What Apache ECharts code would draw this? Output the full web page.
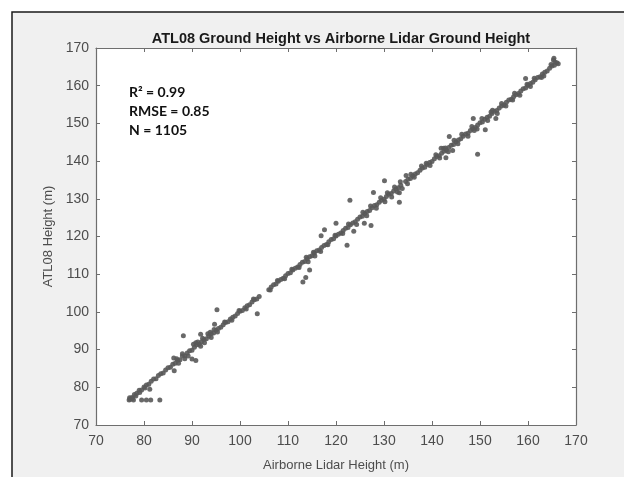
<!DOCTYPE html>
<html lang="en">
<head>
    <meta charset="UTF-8">
    <title>ATL08 Ground Height vs Airborne Lidar Ground Height</title>
    <script src="https://cdn.jsdelivr.net/npm/echarts@6/dist/echarts.min.js"></script>
    <style>
        html, body { margin: 0; padding: 0; background: #fff; }
        #chart { width: 624px; height: 477px; }
    </style>
</head>
<body>
<div id="chart"></div>
<script>
    // main band of points along the 1:1 line (airborne lidar x, ATL08 y)
    var lidarLine = [77.0, 77.5, 78.0, 78.5, 79.0, 79.5, 80.0, 80.5, 81.0, 81.5, 82.0, 82.5, 83.0, 83.5, 84.0, 84.5,
        85.0, 85.5, 86.0, 86.5, 87.0, 87.5, 88.0, 88.5, 89.0, 89.5, 90.0, 90.5, 91.0, 91.5, 92.0, 92.5, 93.0, 93.5,
        94.0, 94.5, 95.0, 95.5, 96.0, 96.5, 97.0, 97.5, 98.0, 98.5, 99.0, 99.5, 100.0, 100.5, 101.0, 101.5, 102.0,
        102.5, 103.0, 103.5, 104.0, 106.0, 106.5, 107.0, 107.5, 108.0, 108.5, 109.0, 109.5, 110.0, 110.5, 111.0,
        111.5, 112.0, 112.5, 113.0, 113.5, 114.0, 114.5, 115.0, 115.5, 116.0, 116.5, 117.0, 117.5, 118.0, 118.5,
        119.0, 119.5, 120.0, 120.5, 121.0, 121.5, 122.0, 122.5, 123.0, 123.5, 124.0, 124.5, 125.0, 125.5, 126.0,
        126.5, 127.0, 127.5, 128.0, 128.5, 129.0, 129.5, 130.0, 130.5, 131.0, 131.5, 132.0, 132.5, 133.0, 133.5,
        134.5, 135.0, 135.5, 136.0, 136.5, 137.0, 137.5, 138.0, 138.5, 139.0, 139.5, 140.0, 140.5, 141.0, 141.5,
        142.0, 142.5, 143.0, 143.5, 144.0, 144.5, 145.0, 145.5, 146.0, 146.5, 147.0, 147.5, 148.0, 148.5, 149.0,
        149.5, 150.0, 150.5, 151.0, 151.5, 152.0, 152.5, 153.0, 153.5, 154.0, 154.5, 155.0, 155.5, 156.0, 156.5,
        157.0, 157.5, 158.0, 158.5, 159.0, 159.5, 160.0, 160.5, 161.0, 161.5, 162.0, 162.5, 163.0, 163.5, 164.0,
        164.5, 165.0, 165.5, 166.0, 166.3];
    var atl08Line = [77.2, 77.3, 78.1, 78.4, 79.2, 79.3, 80.1, 80.6, 80.8, 81.6, 82.2, 82.3, 83.1, 83.6, 83.8, 84.6,
        85.2, 85.3, 86.1, 86.4, 87.2, 87.3, 88.3, 88.4, 89.1, 89.7, 89.8, 90.6, 91.3, 91.4, 92.1, 92.7, 92.9, 93.6,
        94.2, 94.4, 95.1, 95.6, 95.9, 96.6, 97.2, 97.4, 98.1, 98.6, 98.9, 99.6, 100.2, 100.4, 101.1, 101.6, 101.9,
        102.6, 103.2, 103.4, 104.1, 105.9, 106.6, 107.2, 107.4, 108.1, 108.6, 108.9, 109.6, 110.2, 110.4, 111.1,
        111.6, 111.9, 112.6, 113.2, 113.4, 114.1, 114.6, 114.9, 115.6, 116.2, 116.4, 117.1, 117.6, 117.9, 118.6,
        119.2, 119.4, 120.1, 120.6, 120.9, 121.6, 122.2, 122.4, 123.1, 123.6, 123.9, 124.6, 125.2, 125.4, 126.1,
        126.6, 126.9, 127.6, 128.2, 128.4, 129.1, 129.6, 129.9, 130.6, 131.2, 131.4, 132.1, 132.6, 132.9, 133.6,
        134.6, 135.2, 135.4, 136.1, 136.6, 136.9, 137.6, 138.2, 138.4, 139.1, 139.6, 139.9, 140.6, 141.2, 141.4,
        142.1, 142.6, 142.9, 143.6, 144.2, 144.4, 145.1, 145.6, 145.9, 146.6, 147.2, 147.4, 148.1, 148.6, 148.9,
        149.6, 150.2, 150.4, 151.1, 151.6, 151.9, 152.6, 153.2, 153.4, 154.1, 154.6, 154.9, 155.6, 156.2, 156.4,
        157.1, 157.6, 157.9, 158.6, 159.2, 159.4, 160.1, 160.6, 160.9, 161.6, 162.2, 162.4, 163.1, 163.6, 163.9,
        164.6, 165.2, 165.4, 166.1, 165.8];

    // points that make the band look rough
    var lidarBand = [77.1, 77.6, 78.3, 79.1, 80.2, 81.2, 86.8, 87.2, 88.0, 88.5, 89.2, 90.3, 90.8, 91.2, 91.8, 92.2,
        92.6, 93.3, 93.8, 94.0, 94.6, 113.8, 114.2, 115.6, 116.8, 121.4, 122.6, 124.3, 125.6, 126.4, 127.2, 128.4,
        129.3, 130.2, 130.7, 131.6, 132.2, 132.8, 133.4, 133.8, 134.9, 135.6, 137.8, 139.6, 140.8, 141.6, 142.4,
        143.4, 144.6, 145.4, 146.2, 147.5, 148.3, 149.4, 150.4, 151.6, 152.6, 153.6, 154.5, 155.4, 157.2, 158.3,
        160.5, 161.3, 163.3, 164.8, 165.6, 165.3,
        95.3, 96.8, 98.3, 99.8, 101.3, 102.8, 106.3, 107.8, 109.3, 110.8, 112.3, 115.3, 118.3, 119.8, 136.3, 138.8,
        142.8, 148.8, 152.3, 156.8, 159.8, 162.8];
    var atl08Band = [76.8, 77.0, 77.7, 78.6, 79.8, 79.5, 87.6, 86.4, 88.9, 87.6, 88.3, 91.4, 91.8, 92.0, 90.9, 93.0,
        91.8, 94.2, 94.6, 93.2, 95.3, 114.5, 113.3, 114.8, 116.0, 120.8, 123.3, 123.2, 126.4, 125.5, 128.1, 127.5,
        130.3, 129.2, 131.6, 130.5, 133.1, 131.8, 134.5, 132.7, 134.0, 136.5, 138.7, 138.8, 141.7, 140.8, 143.4,
        142.5, 145.5, 144.6, 147.1, 146.6, 149.2, 148.5, 151.3, 150.8, 153.5, 152.6, 155.3, 154.6, 158.0, 157.5,
        159.8, 162.0, 162.6, 165.6, 166.3, 166.8,
        94.7, 97.3, 97.8, 100.4, 100.8, 103.4, 105.8, 108.3, 108.8, 111.3, 111.8, 115.8, 117.8, 120.3, 135.7, 139.4,
        143.5, 148.1, 153.0, 156.2, 160.4, 162.2];

    // scattered outliers
    var lidarOut = [76.9, 77.8, 79.5, 80.5, 81.4, 83.3, 95.2, 88.2, 103.6, 91.8, 94.7, 90.0, 90.8, 86.3, 86.2, 113.1,
        113.7, 114.5, 122.9, 130.1, 127.8, 133.2, 116.9, 117.6, 120.0, 122.3, 123.7, 125.9, 127.3, 134.6, 133.2,
        165.4, 159.5, 148.6, 151.1, 153.3, 149.5, 143.6, 141.9, 142.9, 144.3];
    var atl08Out = [76.6, 76.6, 76.6, 76.6, 76.6, 76.6, 100.6, 93.7, 99.5, 94.1, 96.7, 87.5, 87.1, 84.4, 87.8, 107.9,
        109.1, 111.1, 129.6, 134.8, 131.7, 129.1, 120.2, 121.8, 123.5, 117.7, 121.4, 123.5, 122.9, 136.2, 131.6,
        167.3, 161.9, 151.3, 148.3, 151.3, 141.8, 146.5, 143.4, 140.9, 142.8];

    var statLines = ['R\u00b2 = 0.99', 'RMSE = 0.85', 'N = 1105'];

    function pairs(xs, ys) {
        var out = [];
        for (var i = 0; i < xs.length; i++) {
            out.push([xs[i], ys[i]]);
        }
        return out;
    }
    var points = pairs(lidarLine, atl08Line)
        .concat(pairs(lidarBand, atl08Band))
        .concat(pairs(lidarOut, atl08Out));

    var chart = echarts.init(document.getElementById('chart'));
    var axisColor = '#6e6e6e';
    var labelStyle = { color: '#4d4d4d', fontSize: 14, fontFamily: 'Liberation Sans, Arial' };

    function frameAxis(pos) {
        return {
            type: 'value', position: pos, min: 70, max: 170, interval: 10,
            axisLine: { show: true, onZero: false, lineStyle: { color: axisColor, width: 1.2 } },
            axisTick: { show: true, inside: true, length: 4, lineStyle: { color: axisColor } },
            axisLabel: { show: false },
            splitLine: { show: false }
        };
    }

    chart.setOption({
        backgroundColor: '#ffffff',
        animation: false,
        title: {
            text: 'ATL08 Ground Height vs Airborne Lidar Ground Height',
            left: 336,
            top: 26,
            textAlign: 'center',
            textStyle: { fontSize: 14.5, fontWeight: 'bold', color: '#1a1a1a', fontFamily: 'Liberation Sans, Arial' }
        },
        graphic: [
            {
                type: 'rect', z: -10, silent: true,
                shape: { x: 12, y: 12, width: 620, height: 470 },
                style: { fill: '#f0f0f0', stroke: '#1a1a1a', lineWidth: 1.5 }
            },
            {
                type: 'text', left: 129, top: 83, z: 10,
                style: {
                    text: statLines.join('\n'),
                    fontSize: 14, fontWeight: 'bold', lineHeight: 19,
                    fontFamily: 'Lato, Noto Sans', fill: '#111'
                }
            }
        ],
        grid: {
            left: 96, right: 48, top: 48, bottom: 48,
            show: true, backgroundColor: '#ffffff', borderWidth: 0
        },
        xAxis: [
            {
                type: 'value', position: 'bottom', min: 70, max: 170, interval: 10,
                name: 'Airborne Lidar Height (m)', nameLocation: 'middle', nameGap: 34,
                nameTextStyle: { color: '#4d4d4d', fontSize: 13, fontFamily: 'Liberation Sans, Arial' },
                axisLine: { show: true, onZero: false, lineStyle: { color: axisColor, width: 1.2 } },
                axisTick: { show: true, inside: true, length: 4, lineStyle: { color: axisColor } },
                axisLabel: Object.assign({ margin: 9 }, labelStyle),
                splitLine: { show: false }
            },
            frameAxis('top')
        ],
        yAxis: [
            {
                type: 'value', position: 'left', min: 70, max: 170, interval: 10,
                name: 'ATL08 Height (m)', nameLocation: 'middle', nameGap: 37,
                nameTextStyle: { color: '#4d4d4d', fontSize: 13, fontFamily: 'Liberation Sans, Arial' },
                axisLine: { show: true, onZero: false, lineStyle: { color: axisColor, width: 1.2 } },
                axisTick: { show: true, inside: true, length: 4, lineStyle: { color: axisColor } },
                axisLabel: Object.assign({ margin: 7 }, labelStyle),
                splitLine: { show: false }
            },
            frameAxis('right')
        ],
        series: [{
            name: 'ATL08 vs Airborne Lidar',
            type: 'scatter',
            symbol: 'circle',
            symbolSize: 5,
            itemStyle: { color: '#595959', opacity: 0.9 },
            data: points
        }]
    });

    window.addEventListener('resize', function () {
        chart.resize();
    });
</script>
</body>
</html>
